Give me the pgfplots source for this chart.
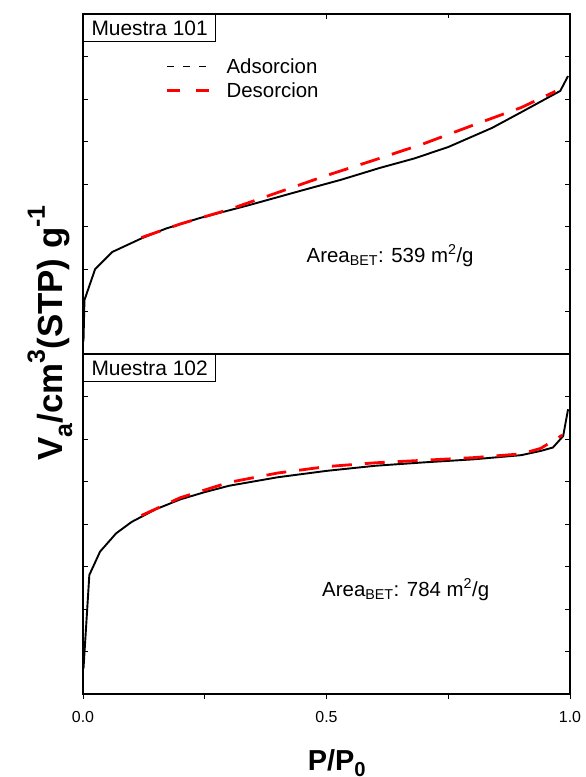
\documentclass[border=0pt]{standalone}
\usepackage{fontspec}
\setmainfont{Liberation Sans}
\usepackage{pgfplots}
\pgfplotsset{compat=1.18}
\newcommand{\ysub}[1]{\raisebox{-0.28em}{\fontsize{25}{25}\selectfont #1}}
\newcommand{\ysup}[1]{\raisebox{0.5em}{\fontsize{25}{25}\selectfont #1}}
\begin{document}
\begin{tikzpicture}
\pgfplotsset{
  panel/.style={width=487bp,height=340bp,scale only axis,
    xmin=0,xmax=1.0,ymin=0,ymax=8,
    ytick={1,2,3,4,5,6,7},yticklabels={},ytick pos=both,ytick align=inside,
    axis line style={line width=1.3bp},
    every tick/.style={black,line width=0.9bp},
    major tick length=5bp,
    /pgf/number format/assume math mode=true,
  },
  blk/.style={black,line width=1.9bp},
  rd/.style={red,line width=2.8bp,dash pattern=on 20bp off 13bp},
}
\path[use as bounding box] (-83bp,-83bp) rectangle (503bp,694bp);
% bottom panel
\begin{axis}[panel,at={(0,0)},anchor=south west,
  xtick={0,0.5,1.0},xticklabels={},
  minor xtick={0.25,0.75},xtick pos=left,xtick align=outside,
  minor tick length=5bp,
  clip=false]
\addplot[blk] coordinates {(0.001,0.6) (0.013,2.8) (0.035,3.35) (0.068,3.78) (0.1,4.05) (0.15,4.35) (0.2,4.58) (0.25,4.75) (0.3,4.9) (0.4,5.1) (0.5,5.25) (0.6,5.37) (0.7,5.45) (0.8,5.52) (0.9,5.62) (0.94,5.72) (0.965,5.8) (0.986,6.07) (0.996,6.7)};
\addplot[rd] coordinates {(0.12,4.2) (0.2,4.62) (0.3,4.98) (0.4,5.2) (0.5,5.35) (0.6,5.44) (0.7,5.5) (0.8,5.56) (0.9,5.65) (0.94,5.78) (0.984,6.09)};
\node[font=\fontsize{16}{18}\selectfont,yshift=-23bp] at (axis cs:0,0) {0.0};
\node[font=\fontsize{16}{18}\selectfont,yshift=-23bp] at (axis cs:0.5,0) {0.5};
\node[font=\fontsize{16}{18}\selectfont,yshift=-23bp] at (axis cs:1.0,0) {1.0};
\node[anchor=north west,draw,line width=1bp,fill=white,inner xsep=8bp,inner ysep=0pt,minimum height=27bp,font=\fontsize{21}{23}\selectfont] at (rel axis cs:0,1) {Muestra 102};
\node[anchor=west,font=\fontsize{20.5}{22}\selectfont] at (axis cs:0.484,2.45) {Area\textsubscript{BET}: 784 m\textsuperscript{2}/g};
\end{axis}
% top panel
\begin{axis}[panel,at={(0,340bp)},anchor=south west,
  xtick={0,0.5,1.0},xticklabels={},
  minor xtick={0.25,0.75},xtick pos=right,xtick align=inside,
  minor tick length=4bp,
  legend style={draw=none,fill=none,at={(rel axis cs:0.17,0.876)},anchor=north west,
    font=\fontsize{20.5}{22}\selectfont,row sep=4bp,column sep=12bp,inner sep=0pt},
  legend cell align=left,
  legend image code/.code={\draw[#1] (0bp,0bp) -- (44bp,0bp);},
  clip=false]
\addlegendimage{black,line width=1.6bp,dash pattern=on 7bp off 9bp}
\addlegendentry{Adsorcion}
\addlegendimage{red,line width=2.6bp,dash pattern=on 13bp off 16bp}
\addlegendentry{Desorcion}
\addplot[blk,forget plot] coordinates {(0.001,0.3) (0.003,1.27) (0.025,2.0) (0.06,2.4) (0.12,2.72) (0.17,2.95) (0.24,3.2) (0.34,3.5) (0.45,3.85) (0.53,4.1) (0.61,4.38) (0.68,4.6) (0.75,4.87) (0.84,5.32) (0.90,5.69) (0.98,6.19) (0.996,6.54)};
\addplot[rd,forget plot] coordinates {(0.12,2.74) (0.2,3.06) (0.3,3.4) (0.4,3.8) (0.5,4.2) (0.6,4.57) (0.7,4.95) (0.8,5.38) (0.9,5.8) (0.97,6.18)};
\node[anchor=north west,draw,line width=1bp,fill=white,inner xsep=8bp,inner ysep=0pt,minimum height=27bp,font=\fontsize{21}{23}\selectfont] at (rel axis cs:0,1) {Muestra 101};
\node[anchor=west,font=\fontsize{20.5}{22}\selectfont] at (axis cs:0.452,2.31) {Area\textsubscript{BET}: 539 m\textsuperscript{2}/g};
\end{axis}
\node[rotate=90,font=\fontsize{35}{37}\selectfont\bfseries] at (-33bp,361bp) {V\ysub{a}/cm\ysup{3}(STP) g\ysup{-1}};
\node[font=\fontsize{29}{31}\selectfont\bfseries] at (254bp,-69bp) {P/P\textsubscript{0}};
\end{tikzpicture}
\end{document}
